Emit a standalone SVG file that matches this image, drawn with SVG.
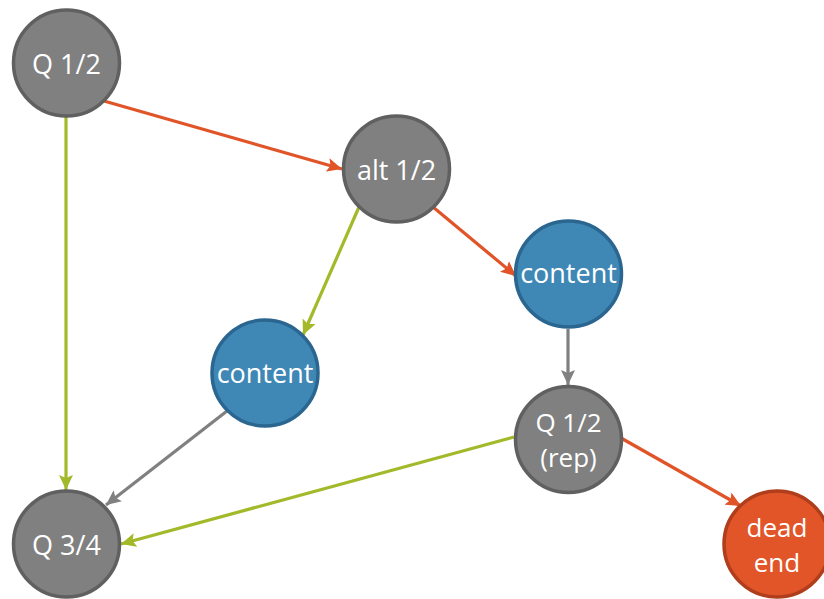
<svg xmlns="http://www.w3.org/2000/svg" width="824" height="599" viewBox="0 0 824 599">
  <style>
    .q { fill: #808080; stroke: #606060; stroke-width: 3.5; }
    .c { fill: #3F88B6; stroke: #2A6690; stroke-width: 3.5; }
    .d { fill: #E15528; stroke: #B03E1C; stroke-width: 3.5; }
    .t { fill: #FFFFFF; font-family: "Open Sans", "Liberation Sans", sans-serif; font-size: 27px; text-anchor: middle; }
    .t2 { font-size: 26px; }
    .e { fill: none; stroke-width: 3.2; }
    .red { stroke: #E05428; }
    .grn { stroke: #A3B92A; }
    .gry { stroke: #808080; }
  </style>
  <defs>
    <marker id="ar" markerUnits="userSpaceOnUse" markerWidth="16" markerHeight="14" viewBox="0 0 16 14" refX="15" refY="7" orient="auto">
      <path d="M0,0 L15,7 L0,14 L3,7 Z" fill="#E05428"/>
    </marker>
    <marker id="ag" markerUnits="userSpaceOnUse" markerWidth="16" markerHeight="14" viewBox="0 0 16 14" refX="15" refY="7" orient="auto">
      <path d="M0,0 L15,7 L0,14 L3,7 Z" fill="#A3B92A"/>
    </marker>
    <marker id="ay" markerUnits="userSpaceOnUse" markerWidth="16" markerHeight="14" viewBox="0 0 16 14" refX="15" refY="7" orient="auto">
      <path d="M0,0 L15,7 L0,14 L3,7 Z" fill="#808080"/>
    </marker>
  </defs>

  <g id="connectors">
    <line class="e red" x1="104" y1="101" x2="342" y2="169" marker-end="url(#ar)"/>
    <line class="e grn" x1="66" y1="117" x2="66" y2="490" marker-end="url(#ag)"/>
    <line class="e grn" x1="359" y1="207" x2="303" y2="335" marker-end="url(#ag)"/>
    <line class="e red" x1="433" y1="207" x2="516" y2="276" marker-end="url(#ar)"/>
    <line class="e gry" x1="568" y1="329" x2="568" y2="385" marker-end="url(#ay)"/>
    <line class="e gry" x1="227" y1="411" x2="106" y2="505" marker-end="url(#ay)"/>
    <line class="e grn" x1="514" y1="437" x2="121" y2="544" marker-end="url(#ag)"/>
    <line class="e red" x1="621" y1="438" x2="741" y2="506" marker-end="url(#ar)"/>
  </g>

  <g id="q12">
    <circle class="q" cx="66.5" cy="63" r="53"/>
    <text class="t" x="66.5" y="74">Q 1/2</text>
  </g>
  <g id="alt12">
    <circle class="q" cx="396.5" cy="169" r="53"/>
    <text class="t" x="396.5" y="180">alt 1/2</text>
  </g>
  <g id="content-right">
    <circle class="c" cx="568.5" cy="274" r="53"/>
    <text class="t" x="568.5" y="283">content</text>
  </g>
  <g id="content-left">
    <circle class="c" cx="265" cy="373" r="53"/>
    <text class="t" x="265" y="383">content</text>
  </g>
  <g id="q12-rep">
    <circle class="q" cx="568.5" cy="439.5" r="53"/>
    <text class="t t2" x="568.5" y="432">Q 1/2</text>
    <text class="t t2" x="568.5" y="467">(rep)</text>
  </g>
  <g id="q34">
    <circle class="q" cx="66.5" cy="544" r="53"/>
    <text class="t" x="66.5" y="555">Q 3/4</text>
  </g>
  <g id="dead-end">
    <circle class="d" cx="777" cy="544" r="53"/>
    <text class="t t2" x="777" y="537">dead</text>
    <text class="t t2" x="777" y="572">end</text>
  </g>
</svg>
